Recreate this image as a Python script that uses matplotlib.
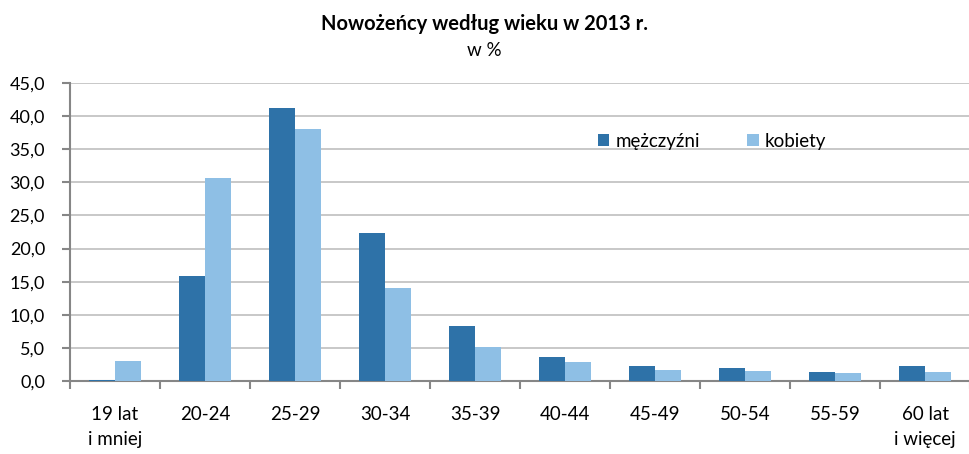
import matplotlib
matplotlib.use("Agg")
import matplotlib.pyplot as plt
import numpy as np

categories = ["19 lat\ni mniej", "20-24", "25-29", "30-34", "35-39", "40-44",
              "45-49", "50-54", "55-59", "60 lat\ni więcej"]
men = [0.2, 15.8, 41.3, 22.4, 8.3, 3.6, 2.2, 1.9, 1.4, 2.3]
women = [3.0, 30.7, 38.1, 14.1, 5.1, 2.9, 1.6, 1.5, 1.2, 1.3]
yticks = [0, 5, 10, 15, 20, 25, 30, 35, 40, 45]

plt.rcParams['font.family'] = ['Lato', 'DejaVu Sans']

fig = plt.figure(figsize=(9.69, 4.54), dpi=100)
ax = fig.add_axes([70/969, 1-381/454, 900/969, 298/454])

x = np.arange(len(categories))
w = 0.29
c_men = "#2E72A8"
c_women = "#8EBFE5"
ax.bar(x - w/2, men, w, color=c_men, label="mężczyźni", zorder=3)
ax.bar(x + w/2, women, w, color=c_women, label="kobiety", zorder=3)

ax.set_xlim(-0.5, len(categories) - 0.5)
ax.set_ylim(0, 45)
ax.set_yticks(yticks)
ax.set_yticklabels([f"{v:.1f}".replace(".", ",") for v in yticks], fontsize=13)
ax.yaxis.grid(True, color="#BFBFBF", linewidth=1.2, zorder=0)
ax.set_axisbelow(True)

ax.set_xticks(np.arange(len(categories) + 1) - 0.5, minor=False)
ax.set_xticklabels([])
ax.set_xticks(x, minor=True)
ax.set_xticklabels(categories, minor=True, fontsize=13.5, linespacing=1.6)
ax.tick_params(axis='x', which='minor', length=0, pad=18)
ax.tick_params(axis='x', which='major', length=6, width=1.5, color="#868686", direction='out')
ax.tick_params(axis='y', length=6, width=1.5, color="#868686", pad=12)

for s in ["top", "right"]:
    ax.spines[s].set_visible(False)
for s in ["left", "bottom"]:
    ax.spines[s].set_color("#868686")
    ax.spines[s].set_linewidth(1.5)

leg = ax.legend(loc="upper left", bbox_to_anchor=(0.568, 0.89), ncol=2, frameon=False,
                fontsize=13.5, handlelength=0.6, handleheight=0.6, columnspacing=2.5,
                handletextpad=0.35)

fig.text(0.5, 1-24/454, "Nowożeńcy według wieku w 2013 r.", ha="center", va="center",
         fontsize=14.5, fontweight="bold")
fig.text(0.5, 1-50/454, "w %", ha="center", va="center", fontsize=13.5)

fig.savefig("out.png", dpi=100)
